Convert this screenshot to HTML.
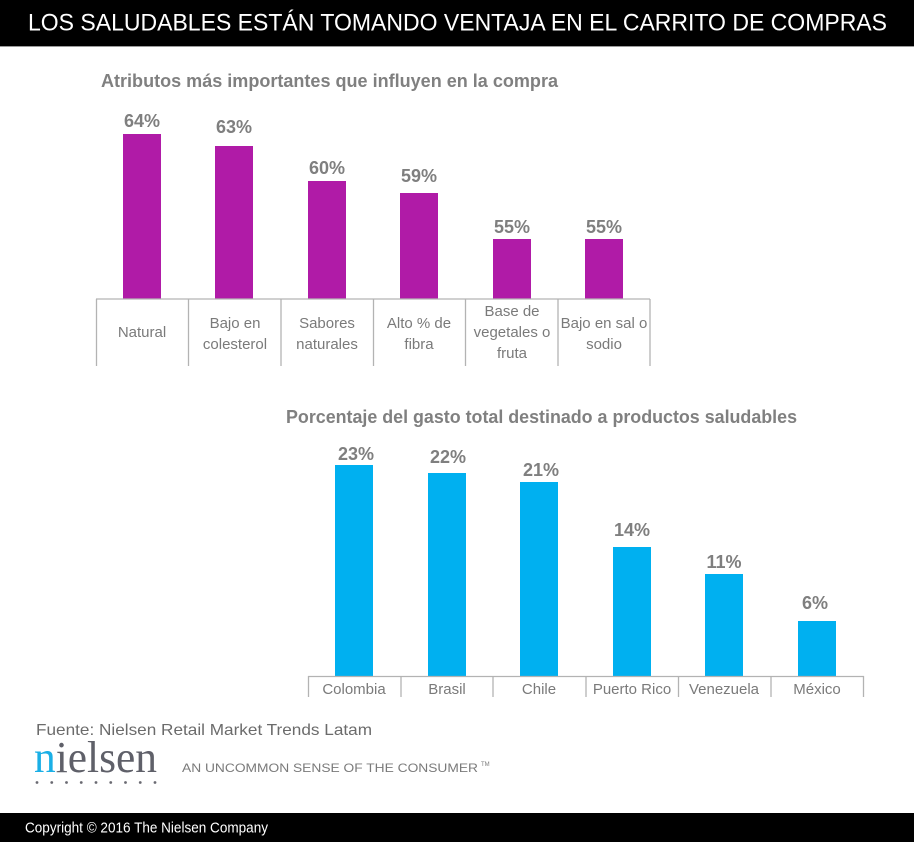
<!DOCTYPE html>
<html>
<head>
<meta charset="utf-8">
<style>
  html, body { margin:0; padding:0; background:#ffffff; }
  svg { display:block; }
  text { font-family: "Liberation Sans", sans-serif; }
</style>
</head>
<body>
<svg width="915" height="847" viewBox="0 0 915 847" xmlns="http://www.w3.org/2000/svg">
  <rect x="0" y="0" width="915" height="847" fill="#ffffff"/>

  <!-- Header bar -->
  <rect x="0" y="0" width="914" height="46" fill="#000000"/>
  <rect x="0" y="46" width="914" height="1" fill="#9a9a9a"/>
  <text x="28" y="30.5" font-size="24" fill="#ffffff" textLength="859" lengthAdjust="spacingAndGlyphs">LOS SALUDABLES ESTÁN TOMANDO VENTAJA EN EL CARRITO DE COMPRAS</text>

  <!-- Chart 1 title -->
  <text x="101" y="87" font-size="18" font-weight="bold" fill="#808080" textLength="457" lengthAdjust="spacingAndGlyphs">Atributos más importantes que influyen en la compra</text>

  <!-- Chart 1 bars -->
  <g fill="#b01ba7">
    <rect x="123" y="134" width="38" height="165"/>
    <rect x="215" y="146" width="38" height="153"/>
    <rect x="308" y="181" width="38" height="118"/>
    <rect x="400" y="193" width="38" height="106"/>
    <rect x="493" y="239" width="38" height="60"/>
    <rect x="585" y="239" width="38" height="60"/>
  </g>

  <!-- Chart 1 values -->
  <g font-size="18" font-weight="bold" fill="#7f7f7f" text-anchor="middle">
    <text x="142" y="127">64%</text>
    <text x="234" y="133">63%</text>
    <text x="327" y="174">60%</text>
    <text x="419" y="182">59%</text>
    <text x="512" y="233">55%</text>
    <text x="604" y="233">55%</text>
  </g>

  <!-- Chart 1 axis -->
  <g stroke="#b3b3b3" stroke-width="1.3">
    <line x1="96" y1="299" x2="650" y2="299"/>
    <line x1="96.5" y1="299" x2="96.5" y2="366"/>
    <line x1="188.5" y1="299" x2="188.5" y2="366"/>
    <line x1="281" y1="299" x2="281" y2="366"/>
    <line x1="373.5" y1="299" x2="373.5" y2="366"/>
    <line x1="465.5" y1="299" x2="465.5" y2="366"/>
    <line x1="558" y1="299" x2="558" y2="366"/>
    <line x1="650" y1="299" x2="650" y2="366"/>
  </g>

  <!-- Chart 1 categories -->
  <g font-size="15" fill="#7a7a7a" text-anchor="middle">
    <text x="142" y="337">Natural</text>
    <text x="235" y="328">Bajo en</text>
    <text x="235" y="349">colesterol</text>
    <text x="327" y="328">Sabores</text>
    <text x="327" y="349">naturales</text>
    <text x="419" y="328">Alto % de</text>
    <text x="419" y="349">fibra</text>
    <text x="512" y="316">Base de</text>
    <text x="512" y="337">vegetales o</text>
    <text x="512" y="358">fruta</text>
    <text x="604" y="328">Bajo en sal o</text>
    <text x="604" y="349">sodio</text>
  </g>

  <!-- Chart 2 title -->
  <text x="286" y="423" font-size="18" font-weight="bold" fill="#808080" textLength="511" lengthAdjust="spacingAndGlyphs">Porcentaje del gasto total destinado a productos saludables</text>

  <!-- Chart 2 bars -->
  <g fill="#00b0f0">
    <rect x="335" y="465" width="38" height="211"/>
    <rect x="428" y="473" width="38" height="203"/>
    <rect x="520" y="482" width="38" height="194"/>
    <rect x="613" y="547" width="38" height="129"/>
    <rect x="705" y="574" width="38" height="102"/>
    <rect x="798" y="621" width="38" height="55"/>
  </g>

  <!-- Chart 2 values -->
  <g font-size="18" font-weight="bold" fill="#7f7f7f" text-anchor="middle">
    <text x="356" y="460">23%</text>
    <text x="448" y="463">22%</text>
    <text x="541" y="476">21%</text>
    <text x="632" y="536">14%</text>
    <text x="724" y="568">11%</text>
    <text x="815" y="609">6%</text>
  </g>

  <!-- Chart 2 axis -->
  <g stroke="#b3b3b3" stroke-width="1.3">
    <line x1="308" y1="676.5" x2="864" y2="676.5"/>
    <line x1="308.5" y1="676" x2="308.5" y2="697"/>
    <line x1="401" y1="676" x2="401" y2="697"/>
    <line x1="493" y1="676" x2="493" y2="697"/>
    <line x1="586" y1="676" x2="586" y2="697"/>
    <line x1="678.5" y1="676" x2="678.5" y2="697"/>
    <line x1="771" y1="676" x2="771" y2="697"/>
    <line x1="863.5" y1="676" x2="863.5" y2="697"/>
  </g>

  <!-- Chart 2 categories -->
  <g font-size="15" fill="#7a7a7a" text-anchor="middle">
    <text x="354" y="694">Colombia</text>
    <text x="447" y="694">Brasil</text>
    <text x="539" y="694">Chile</text>
    <text x="632" y="694">Puerto Rico</text>
    <text x="724" y="694">Venezuela</text>
    <text x="817" y="694">México</text>
  </g>

  <!-- Source -->
  <text x="36" y="735" font-size="16" fill="#6b6b6b" textLength="336" lengthAdjust="spacingAndGlyphs">Fuente:  Nielsen Retail Market Trends  Latam</text>

  <!-- Nielsen logo -->
  <text x="34" y="772" style="font-family:'Liberation Serif', serif; font-size:44px;" textLength="123" lengthAdjust="spacingAndGlyphs"><tspan fill="#1aafe6">n</tspan><tspan fill="#5f6069">ielsen</tspan></text>
  <g fill="#6a6a72">
    <circle cx="37" cy="782.5" r="1.4"/>
    <circle cx="51.75" cy="782.5" r="1.4"/>
    <circle cx="66.5" cy="782.5" r="1.4"/>
    <circle cx="81.25" cy="782.5" r="1.4"/>
    <circle cx="96" cy="782.5" r="1.4"/>
    <circle cx="110.75" cy="782.5" r="1.4"/>
    <circle cx="125.5" cy="782.5" r="1.4"/>
    <circle cx="140.25" cy="782.5" r="1.4"/>
    <circle cx="155" cy="782.5" r="1.4"/>
  </g>
  <text x="182" y="772" font-size="12" fill="#7a7a7a" textLength="296" lengthAdjust="spacingAndGlyphs">AN UNCOMMON SENSE OF THE CONSUMER</text>
  <text x="481" y="766" font-size="6" fill="#7a7a7a">TM</text>

  <!-- Footer bar -->
  <rect x="0" y="813" width="914" height="29" fill="#000000"/>
  <text x="25" y="832.5" font-size="14.5" fill="#ffffff" textLength="243" lengthAdjust="spacingAndGlyphs">Copyright © 2016 The Nielsen Company</text>
</svg>
</body>
</html>
